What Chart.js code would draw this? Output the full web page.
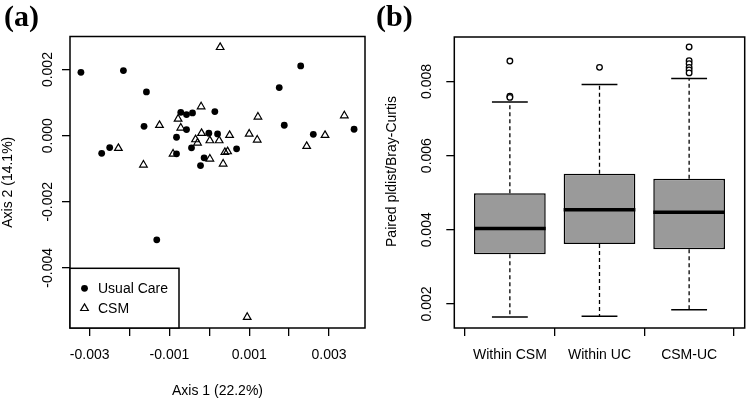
<!DOCTYPE html>
<html>
<head>
<meta charset="utf-8">
<script src="https://cdn.jsdelivr.net/npm/chart.js@4/dist/chart.umd.min.js"></script>
<style>
  html, body { margin: 0; padding: 0; background: #fff; }
  #wrap { position: relative; width: 750px; height: 403px; overflow: hidden; background: #fff; }
  .pane { position: absolute; top: 0; width: 375px; height: 403px; }
  #pa { left: 0; }
  #pb { left: 375px; }
  .tag { position: absolute; top: 1px; font: bold 30px "Liberation Serif", serif; line-height: 1; color: #000; }
</style>
</head>
<body>
<div id="wrap">
  <canvas id="pa" class="pane" width="375" height="403"></canvas>
  <canvas id="pb" class="pane" width="375" height="403"></canvas>
  <div class="tag" style="left:4px">(a)</div>
  <div class="tag" style="left:376px">(b)</div>
</div>
<script>
// ---------- Panel (a): PCoA ordination ----------
const usualCareX = [-0.003219, -0.002154, -0.001577, -0.001637, -0.002699, -0.002498, -0.000716, -0.000572, -0.000422, 0.000138,
                    -0.000572, -0.000823, -0.000013, 0.000206, -0.000447, -0.000823, -0.000131, -0.000221, 0.000683, 0.001752,
                    0.002290, 0.001878, 0.002606, 0.003628, -0.001318];
const usualCareY = [0.001918, 0.001970, 0.001325, 0.000284, -0.000533, -0.000360, 0.000708, 0.000638, 0.000690, 0.000729,
                    0.000185, -0.000048, 0.000073, 0.000054, -0.000369, -0.000551, -0.000672, -0.000905, -0.000399, 0.001455,
                    0.002112, 0.000315, 0.000042, 0.000194, -0.003153];
const csmX = [0.000271, -0.002280, -0.001652, -0.001250, -0.000783, -0.000206, -0.000716, -0.000909, -0.000346, -0.000296,
              -0.000196, 0.000013, 0.000246, 0.000507, 0.000013, 0.000389, 0.000457, 0.000346, 0.000999, 0.001218,
              0.001200, 0.002440, 0.002900, 0.003384, 0.000949];
const csmY = [0.002675, -0.000381, -0.000884, 0.000315, 0.000508, 0.000880, 0.000236, -0.000551, -0.000118, -0.000218,
              0.000073, -0.000148, -0.000148, 0.000012, -0.000702, -0.000502, -0.000481, -0.000853, 0.000054, 0.000569,
              -0.000127, -0.000321, 0.000012, 0.000608, -0.005495];
const seriesNames = ['Usual Care', 'CSM'];
const pcoaTicksX = [-0.003, -0.002, -0.001, 0, 0.001, 0.002, 0.003];
const pcoaTickLabelsX = ['-0.003', '', '-0.001', '', '0.001', '', '0.003'];
const pcoaTicksY = [-0.004, -0.002, 0, 0.002];
const pcoaTickLabelsY = ['-0.004', '-0.002', '0.000', '0.002'];
const axisTitleX = 'Axis 1 (22.2%)';
const axisTitleY = 'Axis 2 (14.1%)';

// ---------- Panel (b): paired distances ----------
const groups = ['Within CSM', 'Within UC', 'CSM-UC'];
const whiskerLow = [0.001649, 0.001668, 0.001846];
const quart1 = [0.003341, 0.003619, 0.003476];
const medians = [0.004032, 0.004537, 0.004475];
const quart3 = [0.004988, 0.005509, 0.005374];
const whiskerHigh = [0.007444, 0.007919, 0.008081];
const outliersWithinCSM = [0.008550, 0.007600, 0.007570];
const outliersWithinUC = [0.008380];
const outliersCSMUC = [0.008930, 0.008560, 0.008480, 0.008380, 0.008310, 0.008230];
const distTicksY = [0.002, 0.004, 0.006, 0.008];
const distTickLabelsY = ['0.002', '0.004', '0.006', '0.008'];
const distTitleY = 'Paired pldist/Bray-Curtis';

// ---------- shared styling ----------
const FONT = 'Liberation Sans, Arial, sans-serif';
Chart.defaults.font.family = FONT;
Chart.defaults.font.size = 14;
Chart.defaults.color = '#000';

const framePlugin = {
  id: 'frame',
  afterDraw(chart) {
    const { ctx, chartArea: a } = chart;
    ctx.save();
    ctx.strokeStyle = '#000';
    ctx.lineWidth = 1.5;
    ctx.strokeRect(a.left, a.top, a.right - a.left, a.bottom - a.top);
    ctx.restore();
  }
};

// rotated y tick labels + rotated y title (R style, las = 0)
const yTextPlugin = {
  id: 'yText',
  afterDraw(chart, args, opts) {
    const { ctx, chartArea: a } = chart;
    const scale = chart.scales.y;
    ctx.save();
    ctx.fillStyle = '#000';
    ctx.font = '14px ' + FONT;
    ctx.textAlign = 'center';
    ctx.textBaseline = 'middle';
    scale.ticks.forEach((t, i) => {
      const y = scale.getPixelForValue(t.value);
      ctx.save();
      ctx.translate(opts.labelX, y);
      ctx.rotate(-Math.PI / 2);
      ctx.fillText(opts.labels[i], 0, 0);
      ctx.restore();
    });
    ctx.save();
    ctx.translate(opts.titleX, (a.top + a.bottom) / 2 + opts.titleDy);
    ctx.rotate(-Math.PI / 2);
    ctx.fillText(opts.title, 0, 0);
    ctx.restore();
    ctx.restore();
  }
};

const legendBoxPlugin = {
  id: 'legendBox',
  afterDraw(chart, args, opts) {
    if (!opts || !opts.show) return;
    const { ctx, chartArea: a } = chart;
    const x0 = a.left, y0 = opts.top, x1 = a.left + opts.width, y1 = a.bottom;
    ctx.save();
    ctx.fillStyle = '#fff';
    ctx.fillRect(x0, y0, x1 - x0, y1 - y0);
    ctx.strokeStyle = '#000';
    ctx.lineWidth = 1.5;
    ctx.strokeRect(x0, y0, x1 - x0, y1 - y0);
    ctx.font = '14px ' + FONT;
    ctx.textAlign = 'left';
    ctx.textBaseline = 'middle';
    chart.data.datasets.forEach((ds, i) => {
      const cx = x0 + 14.5, cy = y0 + 20 + i * 20;
      ctx.beginPath();
      if (ds.pointStyle === 'triangle') {
        const r = 4.4;
        ctx.moveTo(cx, cy - r);
        ctx.lineTo(cx + r * 0.866, cy + r * 0.5);
        ctx.lineTo(cx - r * 0.866, cy + r * 0.5);
        ctx.closePath();
        ctx.lineWidth = 1.2;
        ctx.strokeStyle = '#000';
        ctx.stroke();
      } else {
        ctx.arc(cx, cy, 3.4, 0, Math.PI * 2);
        ctx.fillStyle = '#000';
        ctx.fill();
      }
      ctx.fillStyle = '#000';
      ctx.fillText(ds.label, x0 + 28, cy + 0.5);
    });
    ctx.restore();
  }
};

function tickGrid() {
  return { display: true, drawOnChartArea: false, drawTicks: true, tickLength: 8, color: '#000', lineWidth: 1.3 };
}

// ---------- Chart (a) ----------
new Chart(document.getElementById('pa'), {
  type: 'scatter',
  data: {
    datasets: [
      {
        label: seriesNames[0],
        data: usualCareX.map((x, i) => ({ x, y: usualCareY[i] })),
        pointStyle: 'circle', pointRadius: 3.4, pointHoverRadius: 3.4,
        backgroundColor: '#000', borderColor: '#000', borderWidth: 0
      },
      {
        label: seriesNames[1],
        data: csmX.map((x, i) => ({ x, y: csmY[i] })),
        pointStyle: 'triangle', pointRadius: 4.4, pointHoverRadius: 4.4,
        backgroundColor: 'rgba(0,0,0,0)', borderColor: '#000', borderWidth: 1.2
      }
    ]
  },
  options: {
    responsive: false, animation: false, devicePixelRatio: 1,
    layout: { padding: { left: 0, right: 10, top: 36.5, bottom: 0 } },
    plugins: {
      legend: { display: false }, tooltip: { enabled: false },
      yText: { labels: pcoaTickLabelsY, labelX: 48, title: axisTitleY, titleX: 8, titleDy: 0 },
      legendBox: { show: true, top: 268.3, width: 109 }
    },
    scales: {
      x: {
        type: 'linear', position: 'bottom', min: -0.003493, max: 0.003902,
        afterBuildTicks: s => { s.ticks = pcoaTicksX.map(v => ({ value: v })); },
        afterFit: s => { s.height = 75; },
        ticks: { autoSkip: false, maxRotation: 0, padding: 11, callback: (v, i) => pcoaTickLabelsX[i] },
        grid: tickGrid(),
        border: { display: false },
        title: { display: true, text: axisTitleX, padding: { top: 0, bottom: 3 } }
      },
      y: {
        type: 'linear', position: 'left', min: -0.005822, max: 0.003002,
        afterBuildTicks: s => { s.ticks = pcoaTicksY.map(v => ({ value: v })); },
        afterFit: s => { s.width = 70; },
        ticks: { display: false },
        grid: tickGrid(),
        border: { display: false }
      }
    }
  },
  plugins: [framePlugin, yTextPlugin, legendBoxPlugin]
});

// ---------- Chart (b) ----------
function gapped(build) {
  const out = [];
  groups.forEach((g, i) => { build(i, i + 1).forEach(p => out.push(p)); });
  return out;
}
const outlierGroups = [outliersWithinCSM, outliersWithinUC, outliersCSMUC];

new Chart(document.getElementById('pb'), {
  type: 'bar',
  data: {
    datasets: [
      {
        type: 'line', label: 'median', order: 0,
        data: gapped((i, c) => [{ x: c - 0.4, y: medians[i] }, { x: c + 0.4, y: medians[i] }, { x: c + 0.4, y: null }]),
        borderColor: '#000', borderWidth: 3.5, pointRadius: 0, spanGaps: false, fill: false
      },
      {
        type: 'line', label: 'whiskers', order: 1,
        data: gapped((i, c) => [{ x: c, y: quart3[i] }, { x: c, y: whiskerHigh[i] }, { x: c, y: null },
                                { x: c, y: quart1[i] }, { x: c, y: whiskerLow[i] }, { x: c, y: null }]),
        borderColor: '#000', borderWidth: 1.3, borderDash: [4, 3], pointRadius: 0, spanGaps: false, fill: false
      },
      {
        type: 'line', label: 'caps', order: 1,
        data: gapped((i, c) => [{ x: c - 0.2, y: whiskerHigh[i] }, { x: c + 0.2, y: whiskerHigh[i] }, { x: c + 0.2, y: null },
                                { x: c - 0.2, y: whiskerLow[i] }, { x: c + 0.2, y: whiskerLow[i] }, { x: c + 0.2, y: null }]),
        borderColor: '#000', borderWidth: 1.5, pointRadius: 0, spanGaps: false, fill: false
      },
      {
        type: 'scatter', label: 'outliers', order: 1,
        data: gapped((i, c) => outlierGroups[i].map(v => ({ x: c, y: v }))),
        pointStyle: 'circle', pointRadius: 2.8, backgroundColor: '#fff', borderColor: '#000', borderWidth: 1.3
      },
      {
        type: 'bar', label: 'IQR', order: 5,
        data: groups.map((g, i) => ({ x: i + 1, y: [quart1[i], quart3[i]] })),
        backgroundColor: '#9a9a9a', borderColor: '#000', borderWidth: 1.5, borderSkipped: false,
        barPercentage: 0.8, categoryPercentage: 1.0
      }
    ]
  },
  options: {
    responsive: false, animation: false, devicePixelRatio: 1,
    layout: { padding: { left: 0, right: 2, top: 37, bottom: 0 } },
    plugins: {
      legend: { display: false }, tooltip: { enabled: false },
      yText: { labels: distTickLabelsY, labelX: 51.7, title: distTitleY, titleX: 17, titleDy: -11 }
    },
    scales: {
      x: {
        type: 'linear', position: 'bottom', min: 0.38, max: 3.62, offset: false,
        afterBuildTicks: s => { s.ticks = groups.map((g, i) => ({ value: i + 1 })); },
        afterFit: s => { s.height = 75; },
        ticks: { autoSkip: false, maxRotation: 0, padding: 11, callback: (v, i) => groups[i] },
        grid: tickGrid(),
        border: { display: false }
      },
      y: {
        type: 'linear', position: 'left', min: 0.001352, max: 0.009198,
        afterBuildTicks: s => { s.ticks = distTicksY.map(v => ({ value: v })); },
        afterFit: s => { s.width = 79.3; },
        ticks: { display: false },
        grid: tickGrid(),
        border: { display: false }
      }
    }
  },
  plugins: [framePlugin, yTextPlugin]
});
</script>
</body>
</html>
